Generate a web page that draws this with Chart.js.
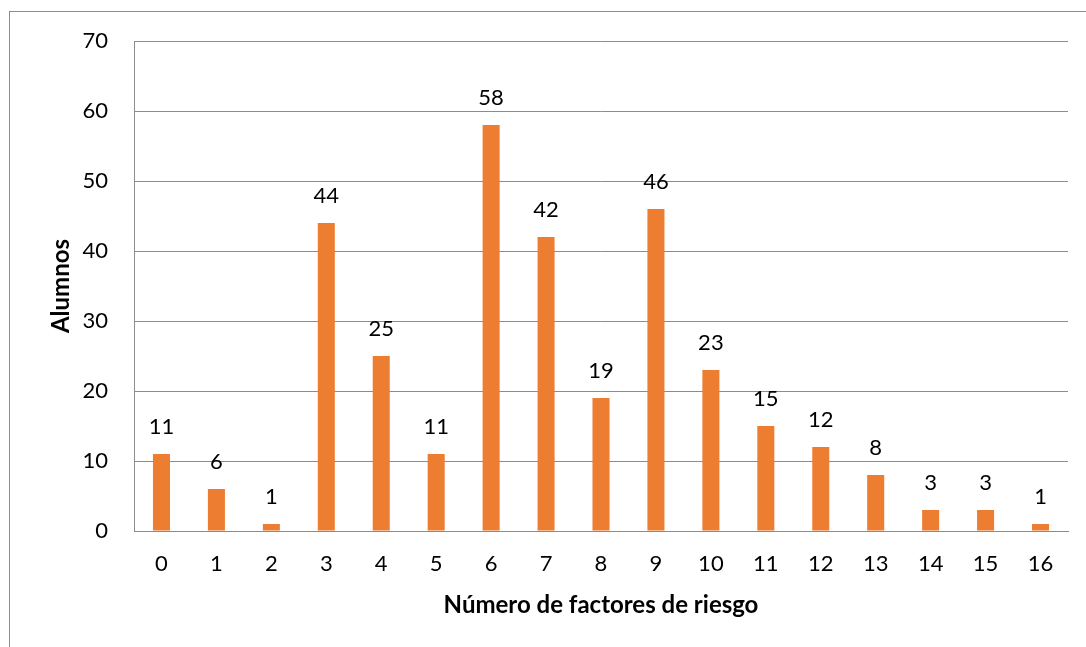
<!DOCTYPE html>
<html>
<head>
<meta charset="utf-8">
<script src="https://cdn.jsdelivr.net/npm/chart.js@4"></script>
<style>
  html, body { margin: 0; padding: 0; background: #fff; }
  #wrap { position: relative; width: 1086px; height: 647px; overflow: hidden; }
  #frame { position: absolute; left: 9px; top: 11px; width: 1200px; height: 800px;
           border-left: 1px solid #8c8c8c; border-top: 1px solid #8c8c8c; }
  canvas { position: absolute; left: 0; top: 0; }
</style>
</head>
<body>
<div id="wrap">
  <div id="frame"></div>
  <canvas id="chart" width="1086" height="647"></canvas>
</div>
<script>
// datos del gráfico
const factores = ['0','1','2','3','4','5','6','7','8','9','10','11','12','13','14','15','16'];
const alumnos = [11, 6, 1, 44, 25, 11, 58, 42, 19, 46, 23, 15, 12, 8, 3, 3, 1];
const yTicks = [0, 10, 20, 30, 40, 50, 60, 70];

const fuente = 'Lato, "Open Sans", sans-serif';

// etiquetas encima de cada barra
const etiquetas = {
    id: 'etiquetas',
    afterDatasetsDraw(chart) {
        const ctx = chart.ctx;
        const meta = chart.getDatasetMeta(0);
        ctx.save();
        ctx.fillStyle = '#000';
        ctx.font = '22px ' + fuente;
        ctx.textAlign = 'center';
        ctx.textBaseline = 'middle';
        meta.data.forEach((bar, i) => {
            ctx.fillText(String(alumnos[i]), bar.x, bar.y - 27);
        });
        ctx.restore();
    }
};

new Chart(document.getElementById('chart'), {
    type: 'bar',
    data: {
        labels: factores,
        datasets: [{
            data: alumnos,
            backgroundColor: '#ED7D31',
            borderWidth: 0,
            categoryPercentage: 1,
            barPercentage: 0.31
        }]
    },
    options: {
        responsive: false,
        animation: false,
        layout: { padding: { left: 0, top: 41, right: 18, bottom: 0 } },
        plugins: { legend: { display: false }, tooltip: { enabled: false } },
        scales: {
            x: {
                grid: { display: false, drawTicks: false },
                border: { color: '#8c8c8c', width: 1 },
                ticks: { color: '#000', padding: 20, font: { family: fuente, size: 22 }, maxRotation: 0 },
                title: {
                    display: true,
                    text: 'Número de factores de riesgo',
                    color: '#000',
                    font: { family: fuente, size: 24, weight: 'bold' },
                    padding: { top: 27, bottom: 27 }
                },
                afterFit: s => { s.height = 116; }
            },
            y: {
                min: 0,
                max: 70,
                afterBuildTicks: s => { s.ticks = yTicks.map(v => ({ value: v })); },
                grid: { color: '#8c8c8c', lineWidth: 1, drawTicks: false },
                border: { color: '#8c8c8c', width: 1 },
                ticks: { color: '#000', padding: 26, font: { family: fuente, size: 22 } },
                title: {
                    display: true,
                    text: 'Alumnos',
                    color: '#000',
                    font: { family: fuente, size: 24, weight: 'bold' },
                    padding: { top: 47, bottom: 47 }
                },
                afterFit: s => { s.width = 134; }
            }
        }
    },
    plugins: [etiquetas]
});
</script>
</body>
</html>
